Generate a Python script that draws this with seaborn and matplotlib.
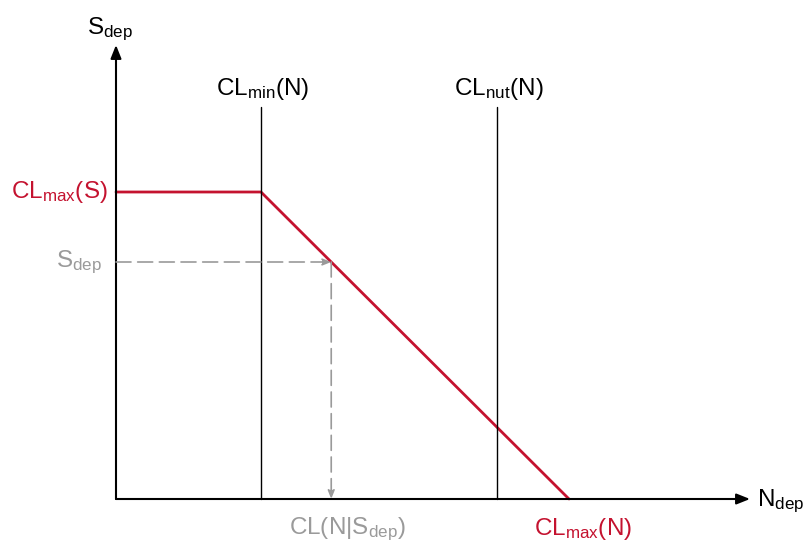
import matplotlib
matplotlib.use("Agg")
import matplotlib.pyplot as plt
import seaborn as sns
import pandas as pd

# concept diagram values (arbitrary deposition units)
cl_min_n = 1.45
cl_nut_n = 3.81
cl_max_n = 4.53
cl_max_s = 3.07
s_dep = 2.37
x_end = 6.34
y_end = 4.54
line_top = 3.92

red = "#c4122f"
gray = "#9a9a9a"

sns.set_style("white")
plt.rcParams["font.family"] = ["Liberation Sans", "DejaVu Sans"]
plt.rcParams["mathtext.fontset"] = "custom"
plt.rcParams["mathtext.rm"] = "Liberation Sans"
plt.rcParams["mathtext.it"] = "Liberation Sans"
plt.rcParams["text.color"] = "black"

fig = plt.figure(figsize=(8.04, 5.44), dpi=100)
ax = fig.add_axes([0, 0, 1, 1])
ax.set_xlim(-1.16, 6.88)
ax.set_ylim(-0.45, 4.99)
ax.axis("off")

# critical load function
cl = pd.DataFrame({"N": [0, cl_min_n, cl_max_n], "S": [cl_max_s, cl_max_s, 0]})
sns.lineplot(data=cl, x="N", y="S", color=red, lw=2, ax=ax, sort=False)

# vertical reference lines
for xv in [cl_min_n, cl_nut_n]:
    ax.plot([xv, xv], [0, line_top], color="black", lw=1)

# axes with arrows
head = "-|>,head_length=0.8,head_width=0.32"
ax.annotate("", xy=(x_end, 0), xytext=(0, 0),
            arrowprops=dict(arrowstyle=head, color="black", lw=1.5, shrinkA=0, shrinkB=0))
ax.annotate("", xy=(0, y_end), xytext=(0, 0),
            arrowprops=dict(arrowstyle=head, color="black", lw=1.5, shrinkA=0, shrinkB=0))

# dashed guide lines
cl_n = cl_min_n + (cl_max_s - s_dep) / cl_max_s * (cl_max_n - cl_min_n)
small = "-|>,head_length=0.5,head_width=0.2"
ax.annotate("", xy=(cl_n, s_dep), xytext=(0, s_dep),
            arrowprops=dict(arrowstyle=small, color=gray, lw=1.2,
                            linestyle=(0, (9, 4)), shrinkA=0, shrinkB=0))
ax.annotate("", xy=(cl_n, 0), xytext=(cl_n, s_dep),
            arrowprops=dict(arrowstyle=small, color=gray, lw=1.2,
                            linestyle=(0, (9, 4)), shrinkA=0, shrinkB=0))

fs = 17.5
ax.text(-0.06, y_end + 0.02, r"S$_{\mathrm{dep}}$", fontsize=fs, ha="center", va="bottom")
ax.text(x_end + 0.07, -0.02, r"N$_{\mathrm{dep}}$", fontsize=fs, ha="left", va="center")
ax.text(cl_min_n + 0.02, line_top + 0.05, r"CL$_{\mathrm{min}}$(N)", fontsize=fs, ha="center", va="bottom")
ax.text(cl_nut_n + 0.02, line_top + 0.05, r"CL$_{\mathrm{nut}}$(N)", fontsize=fs, ha="center", va="bottom")
ax.text(-0.08, cl_max_s, r"CL$_{\mathrm{max}}$(S)", fontsize=fs, ha="right", va="center", color=red)
ax.text(-0.14, s_dep, r"S$_{\mathrm{dep}}$", fontsize=fs, ha="right", va="center", color=gray)
ax.text(cl_max_n + 0.14, -0.17, r"CL$_{\mathrm{max}}$(N)", fontsize=fs, ha="center", va="top", color=red)
ax.text(cl_n + 0.16, -0.17, r"CL(N|S$_{\mathrm{dep}}$)", fontsize=fs, ha="center", va="top", color=gray)

fig.savefig("out.png", dpi=100)
